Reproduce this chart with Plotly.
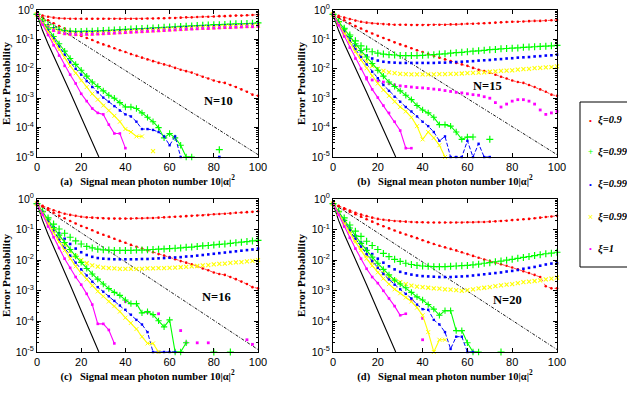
import plotly.graph_objects as go

# ---------------- data (y values are decimal exponents: log10 of error probability) -------------
X = [0, 2.5, 5, 7.5, 10, 12.5, 15, 17.5, 20, 22.5, 25, 27.5, 30, 32.5, 35, 37.5, 40, 42.5, 45, 47.5,
     50, 52.5, 55, 57.5, 60, 62.5, 65, 67.5, 70, 72.5, 75, 77.5, 80, 82.5, 85, 87.5, 90, 92.5, 95, 97.5, 100]
X_TICKS = [0, 20, 40, 60, 80, 100]
Y_TICKVALS = [1, 1e-1, 1e-2, 1e-3, 1e-4, 1e-5]
Y_TICKTEXT = ["10<sup>0</sup>", "10<sup>-1</sup>", "10<sup>-2</sup>", "10<sup>-3</sup>", "10<sup>-4</sup>", "10<sup>-5</sup>"]

BLACK_SOLID_X = [0, 2.5, 5, 7.5, 10, 15, 20, 25, 28]
BLACK_SOLID_E = [-0.15, -0.7, -1.15, -1.55, -1.95, -2.8, -3.65, -4.5, -5.0]
BLACK_DASH_X = [0, 100]
BLACK_DASH_E = [-0.15, -4.92]

RED_LOW_ABC_E = [-0.15, -0.25, -0.35, -0.45, -0.55, -0.63, -0.72, -0.8, -0.88, -0.95, -1.02, -1.1, -1.17, -1.23,
                 -1.3, -1.37, -1.43, -1.5, -1.56, -1.62, -1.68, -1.74, -1.8, -1.85, -1.9, -1.97, -2.03, -2.08,
                 -2.13, -2.2, -2.27, -2.33, -2.4, -2.45, -2.48, -2.55, -2.62, -2.7, -2.78, -2.88, -2.92]
RED_LOW_D_E = [-0.15, -0.24, -0.33, -0.42, -0.5, -0.58, -0.66, -0.74, -0.82, -0.89, -0.96, -1.03, -1.1, -1.16,
               -1.22, -1.28, -1.35, -1.41, -1.47, -1.53, -1.58, -1.63, -1.68, -1.74, -1.8, -1.86, -1.92, -1.98,
               -2.03, -2.08, -2.13, -2.18, -2.24, -2.3, -2.36, -2.42, -2.48, -2.55, -2.85, -2.92, -2.92]

# ---- panel (a) N=10
A_RED_UP_E = [-0.15, -0.19, -0.23, -0.26, -0.28, -0.29, -0.3, -0.3, -0.3, -0.3, -0.3, -0.3, -0.3, -0.3, -0.3,
              -0.3, -0.3, -0.3, -0.3, -0.3, -0.29, -0.29, -0.28, -0.28, -0.27, -0.27, -0.26, -0.25, -0.25, -0.24,
              -0.23, -0.23, -0.22, -0.21, -0.21, -0.2, -0.19, -0.19, -0.18, -0.17, -0.16]
A_GRN_UP_E = [-0.15, -0.35, -0.5, -0.6, -0.66, -0.7, -0.72, -0.73, -0.73, -0.72, -0.72, -0.71, -0.7, -0.69, -0.68,
              -0.67, -0.66, -0.65, -0.64, -0.63, -0.62, -0.61, -0.6, -0.59, -0.58, -0.57, -0.56, -0.55, -0.54,
              -0.53, -0.52, -0.51, -0.5, -0.5, -0.49, -0.48, -0.47, -0.47, -0.46, -0.45, -0.44]
A_BLU_UP_E = [-0.15, -0.37, -0.53, -0.63, -0.7, -0.74, -0.76, -0.77, -0.77, -0.76, -0.76, -0.75, -0.74, -0.73,
              -0.72, -0.71, -0.7, -0.69, -0.68, -0.67, -0.66, -0.65, -0.64, -0.63, -0.62, -0.61, -0.6, -0.59,
              -0.58, -0.57, -0.56, -0.56, -0.55, -0.54, -0.53, -0.53, -0.52, -0.51, -0.5, -0.5, -0.49]
A_YEL_UP_E = [-0.15, -0.39, -0.56, -0.67, -0.74, -0.78, -0.8, -0.81, -0.81, -0.8, -0.8, -0.79, -0.78, -0.77,
              -0.76, -0.75, -0.74, -0.73, -0.72, -0.71, -0.7, -0.69, -0.68, -0.67, -0.66, -0.65, -0.64, -0.63,
              -0.62, -0.61, -0.6, -0.6, -0.59, -0.58, -0.57, -0.57, -0.56, -0.55, -0.54, -0.54, -0.53]
A_MAG_UP_E = [-0.15, -0.41, -0.58, -0.7, -0.77, -0.81, -0.83, -0.84, -0.84, -0.83, -0.83, -0.82, -0.81, -0.8,
              -0.79, -0.78, -0.77, -0.76, -0.75, -0.74, -0.73, -0.72, -0.71, -0.7, -0.69, -0.68, -0.67, -0.66,
              -0.65, -0.64, -0.63, -0.63, -0.62, -0.61, -0.6, -0.6, -0.59, -0.58, -0.57, -0.57, -0.56]
A_GRN_LO_E = [-0.15, -0.4, -0.65, -0.9, -1.15, -1.4, -1.65, -1.85, -2.05, -2.25, -2.45, -2.6, -2.75, -2.9, -3.0,
              -3.15, -3.3, -3.3, -3.35, -3.5, -3.65, -3.8, -4.0, -4.35, -4.2, -4.35, -4.6, -5.0, -5.0]
A_BLU_LO_E = [-0.15, -0.42, -0.7, -0.98, -1.25, -1.52, -1.78, -2.0, -2.2, -2.42, -2.62, -2.8, -2.98, -3.12,
              -3.27, -3.42, -3.55, -3.62, -3.8, -4.05, -4.05, -4.08, -4.15, -4.3, -4.6, -4.3, -5.0]
A_YEL_LO_E = [-0.15, -0.45, -0.75, -1.05, -1.35, -1.62, -1.9, -2.15, -2.4, -2.62, -2.85, -3.05, -3.25, -3.42,
              -3.6, -3.8, -4.05, -4.15, -4.3, -4.3]
A_MAG_LO_E = [-0.15, -0.5, -0.85, -1.2, -1.55, -1.9, -2.2, -2.5, -2.85, -3.1, -3.35, -3.5, -3.55, -3.9, -4.2,
              -4.2, -4.7]
A_GRN_PTS_X, A_GRN_PTS_E = [82.5], [-4.75]
A_BLU_PTS_X, A_BLU_PTS_E = [82.5], [-5.0]
A_YEL_PTS_X, A_YEL_PTS_E = [52.5], [-4.8]

# ---- panel (b) N=15
B_RED_UP_E = [-0.15, -0.2, -0.26, -0.31, -0.36, -0.4, -0.43, -0.45, -0.47, -0.48, -0.49, -0.5, -0.5, -0.5, -0.51,
              -0.51, -0.51, -0.51, -0.5, -0.5, -0.5, -0.49, -0.49, -0.48, -0.47, -0.47, -0.46, -0.45, -0.44,
              -0.43, -0.42, -0.41, -0.4, -0.4, -0.39, -0.38, -0.37, -0.37, -0.36, -0.35, -0.34]
B_GRN_UP_E = [-0.15, -0.4, -0.62, -0.85, -1.05, -1.22, -1.33, -1.42, -1.47, -1.5, -1.52, -1.53, -1.55, -1.55,
              -1.55, -1.55, -1.54, -1.53, -1.52, -1.5, -1.49, -1.47, -1.45, -1.44, -1.42, -1.4, -1.39, -1.37,
              -1.35, -1.34, -1.32, -1.31, -1.3, -1.29, -1.27, -1.26, -1.25, -1.24, -1.23, -1.22, -1.2]
B_BLU_UP_E = [-0.15, -0.42, -0.7, -0.95, -1.2, -1.4, -1.55, -1.65, -1.72, -1.76, -1.78, -1.79, -1.8, -1.8, -1.8,
              -1.8, -1.8, -1.8, -1.8, -1.79, -1.79, -1.78, -1.77, -1.76, -1.75, -1.74, -1.72, -1.71, -1.7, -1.68,
              -1.67, -1.65, -1.64, -1.62, -1.61, -1.6, -1.58, -1.57, -1.55, -1.54, -1.52]
B_YEL_UP_E = [-0.15, -0.45, -0.75, -1.05, -1.3, -1.55, -1.75, -1.9, -2.0, -2.07, -2.12, -2.15, -2.17, -2.18,
              -2.19, -2.19, -2.19, -2.19, -2.19, -2.18, -2.18, -2.17, -2.17, -2.16, -2.15, -2.14, -2.13, -2.12,
              -2.1, -2.09, -2.07, -2.06, -2.05, -2.03, -2.01, -2.0, -1.98, -1.97, -1.95, -1.94, -1.92]
B_MAG_UP_X = [15, 17.5, 20, 22.5, 25, 27.5, 30, 32.5, 35, 37.5, 40, 42.5, 45, 47.5, 50, 52.5, 55, 57.5, 60, 62.5,
              65, 67.5, 70, 72.5, 75, 77.5, 80, 82.5, 85, 87.5, 90, 92.5, 95, 97.5, 100]
B_MAG_UP_E = [-2.3, -2.38, -2.42, -2.45, -2.5, -2.55, -2.58, -2.6, -2.62, -2.64, -2.65, -2.67, -2.69, -2.71, -2.74,
              -2.77, -2.8, -2.82, -2.85, -2.88, -2.9, -2.95, -3.0, -3.15, -3.3, -3.2, -3.1, -3.05, -3.05, -3.1,
              -3.2, -3.4, -3.55, -3.5, -3.45]
B_GRN_LO_E = [-0.15, -0.4, -0.65, -0.9, -1.15, -1.38, -1.6, -1.82, -2.05, -2.25, -2.45, -2.6, -2.75, -2.9, -3.05,
              -3.25, -3.4, -3.5, -3.65, -3.9, -3.9, -3.95, -4.15, -4.4, -4.32, -4.32]
B_BLU_LO_E = [-0.15, -0.45, -0.75, -1.05, -1.33, -1.6, -1.85, -2.1, -2.32, -2.55, -2.75, -2.95, -3.12, -3.3,
              -3.45, -3.62, -3.8, -3.95, -4.15, -4.45, -4.3, -5.0, -5.0, -5.0, -4.45, -5.0, -4.55, -5.0, -5.0]
B_YEL_LO_E = [-0.15, -0.48, -0.8, -1.12, -1.42, -1.7, -1.98, -2.25, -2.5, -2.72, -2.92, -3.12, -3.3, -3.45, -3.65,
              -3.95, -4.4, -4.15, -4.35, -4.6, -5.0]
B_MAG_LO_E = [-0.15, -0.52, -0.9, -1.28, -1.65, -2.0, -2.35, -2.7, -2.98, -3.25, -3.5, -3.8, -4.1, -4.7, -4.7]
B_GRN_PTS_X, B_GRN_PTS_E = [70], [-4.4]

# ---- panel (c) N=16
C_RED_UP_E = [-0.15, -0.22, -0.3, -0.37, -0.43, -0.48, -0.52, -0.55, -0.58, -0.6, -0.61, -0.62, -0.63, -0.64,
              -0.64, -0.64, -0.64, -0.64, -0.63, -0.63, -0.62, -0.62, -0.61, -0.6, -0.59, -0.58, -0.57, -0.56,
              -0.55, -0.54, -0.53, -0.52, -0.5, -0.49, -0.48, -0.47, -0.45, -0.44, -0.43, -0.42, -0.4]
C_GRN_UP_E = [-0.15, -0.4, -0.62, -0.82, -0.98, -1.12, -1.25, -1.37, -1.47, -1.55, -1.6, -1.64, -1.66, -1.67,
              -1.68, -1.68, -1.68, -1.68, -1.67, -1.67, -1.66, -1.65, -1.64, -1.63, -1.62, -1.61, -1.6, -1.58,
              -1.57, -1.55, -1.53, -1.52, -1.5, -1.48, -1.47, -1.45, -1.43, -1.41, -1.39, -1.37, -1.35]
C_BLU_UP_E = [-0.15, -0.42, -0.68, -0.92, -1.12, -1.3, -1.47, -1.62, -1.74, -1.83, -1.89, -1.93, -1.95, -1.96,
              -1.97, -1.97, -1.97, -1.97, -1.97, -1.96, -1.96, -1.95, -1.94, -1.93, -1.92, -1.91, -1.9, -1.88,
              -1.87, -1.85, -1.83, -1.81, -1.79, -1.77, -1.75, -1.73, -1.71, -1.69, -1.67, -1.65, -1.62]
C_YEL_UP_E = [-0.15, -0.45, -0.75, -1.02, -1.28, -1.5, -1.7, -1.87, -2.0, -2.1, -2.17, -2.21, -2.24, -2.26,
              -2.27, -2.28, -2.28, -2.28, -2.28, -2.28, -2.27, -2.27, -2.26, -2.26, -2.25, -2.24, -2.23, -2.22,
              -2.2, -2.19, -2.17, -2.16, -2.14, -2.12, -2.11, -2.09, -2.07, -2.06, -2.04, -2.02, -2.0]
C_MAG_UP_X = [40, 50, 55, 65, 67.5, 72.5, 77.5, 95, 97.5]
C_MAG_UP_E = [-3.35, -3.7, -3.75, -4.3, -4.7, -4.7, -4.7, -4.6, -4.75]
C_GRN_LO_E = [-0.15, -0.42, -0.68, -0.93, -1.18, -1.42, -1.65, -1.87, -2.07, -2.27, -2.45, -2.62, -2.78, -2.93,
              -3.05, -3.15, -3.3, -3.42, -3.42, -3.72, -3.68, -3.78, -3.98, -4.18, -3.95, -5.0, -5.0, -4.7]
C_BLU_LO_E = [-0.15, -0.45, -0.75, -1.05, -1.33, -1.6, -1.85, -2.08, -2.3, -2.5, -2.7, -2.88, -3.03, -3.18, -3.33,
              -3.48, -3.62, -3.78, -3.95, -4.1, -4.35, -5.0, -5.0, -5.0, -5.0, -5.0]
C_YEL_LO_E = [-0.15, -0.48, -0.8, -1.1, -1.4, -1.68, -1.95, -2.2, -2.42, -2.63, -2.83, -3.02, -3.18, -3.35, -3.5,
              -3.68, -3.88, -4.05, -4.25, -4.5, -4.72, -4.72, -5.0]
C_MAG_LO_E = [-0.15, -0.52, -0.9, -1.25, -1.6, -1.95, -2.25, -2.55, -2.8, -3.1, -3.45, -4.08, -4.08, -4.28, -4.72]
C_GRN_PTS_X, C_GRN_PTS_E = [80, 87.5], [-5.0, -5.0]

# ---- panel (d) N=20
D_RED_UP_E = [-0.15, -0.22, -0.3, -0.38, -0.45, -0.51, -0.56, -0.61, -0.65, -0.68, -0.7, -0.72, -0.73, -0.74,
              -0.75, -0.76, -0.76, -0.77, -0.77, -0.77, -0.77, -0.77, -0.77, -0.77, -0.76, -0.76, -0.75, -0.75,
              -0.74, -0.73, -0.72, -0.71, -0.69, -0.68, -0.66, -0.65, -0.63, -0.61, -0.59, -0.57, -0.55]
D_GRN_UP_E = [-0.15, -0.4, -0.62, -0.85, -1.05, -1.22, -1.38, -1.52, -1.65, -1.78, -1.88, -1.97, -2.04, -2.1,
              -2.14, -2.17, -2.19, -2.2, -2.21, -2.21, -2.21, -2.2, -2.19, -2.18, -2.17, -2.15, -2.13, -2.1,
              -2.08, -2.05, -2.03, -2.0, -1.97, -1.94, -1.91, -1.88, -1.85, -1.82, -1.79, -1.77, -1.74]
D_BLU_UP_E = [-0.15, -0.42, -0.7, -0.95, -1.2, -1.42, -1.62, -1.8, -1.95, -2.08, -2.2, -2.3, -2.38, -2.43, -2.47,
              -2.5, -2.52, -2.53, -2.54, -2.55, -2.55, -2.55, -2.54, -2.53, -2.52, -2.5, -2.48, -2.46, -2.44,
              -2.42, -2.4, -2.37, -2.35, -2.32, -2.28, -2.25, -2.22, -2.18, -2.14, -2.11, -2.1]
D_YEL_UP_E = [-0.15, -0.45, -0.75, -1.05, -1.33, -1.6, -1.85, -2.07, -2.25, -2.42, -2.55, -2.65, -2.72, -2.78,
              -2.83, -2.86, -2.88, -2.9, -2.92, -2.93, -2.95, -2.96, -2.98, -3.0, -2.98, -2.95, -2.92, -2.9, -2.88,
              -2.85, -2.82, -2.8, -2.78, -2.75, -2.72, -2.7, -2.68, -2.66, -2.63, -2.6, -2.57]
D_MAG_UP_X = [35, 40, 40]
D_MAG_UP_E = [-3.3, -3.9, -4.6]
D_GRN_LO_E = [-0.15, -0.42, -0.7, -0.95, -1.2, -1.45, -1.68, -1.9, -2.1, -2.3, -2.48, -2.65, -2.78, -2.9, -3.05,
              -3.2, -3.3, -3.45, -3.6, -3.8, -3.65, -3.65, -4.3, -4.3, -4.7, -5.0, -5.0]
D_BLU_LO_E = [-0.15, -0.45, -0.75, -1.03, -1.3, -1.56, -1.8, -2.03, -2.25, -2.45, -2.63, -2.8, -2.95, -3.1, -3.25,
              -3.45, -3.6, -3.62, -3.95, -4.1, -4.35, -4.9, -4.5, -4.5, -5.0, -5.0]
D_YEL_LO_E = [-0.15, -0.48, -0.8, -1.1, -1.4, -1.68, -1.95, -2.18, -2.4, -2.6, -2.78, -2.95, -3.08, -3.22, -3.35,
              -3.55, -3.8, -4.35, -5.0, -4.6, -4.6]
D_MAG_LO_E = [-0.15, -0.52, -0.9, -1.27, -1.62, -1.95, -2.28, -2.55, -2.75, -3.0, -3.25, -3.5, -3.8, -3.75]
D_GRN_PTS_X, D_GRN_PTS_E = [75], [-5.0]

PANEL_TAGS = ["(a)", "(b)", "(c)", "(d)"]
PANEL_N = ["N=10", "N=15", "N=16", "N=20"]
N_LABEL_X = [82, 69, 81, 78]
N_LABEL_E = [-3.1, -2.6, -3.2, -3.3]

LEG_LABELS = ["ξ=0.9", "ξ=0.99", "ξ=0.995", "ξ=0.998", "ξ=1"]
LEG_GLYPHS = ["•", "+", "•", "×", "•"]

# ---------------- styles -------------
RED, GRN, BLU, YEL, MAG = "#ff0000", "#00ff00", "#0000ff", "#ffff00", "#ff00ff"
LEG_COLORS = [RED, GRN, BLU, YEL, MAG]
SERIF = "Liberation Serif"
SANS = "Liberation Sans"

W, H = 627, 394


def px_x(v):
    return v / W


def px_y(v):
    return 1 - v / H


LEFT, RIGHT = [px_x(37), px_x(258)], [px_x(333), px_x(557)]
TOP, BOT = [px_y(157), px_y(10)], [px_y(352), px_y(199)]
XDOM = [LEFT, RIGHT, LEFT, RIGHT]
YDOM = [TOP, TOP, BOT, BOT]


def p(vals):
    return [None if v is None else 10 ** v for v in vals]


fig = go.Figure()


def add(k, x, e, color, mode, symbol="circle", size=3.0, dash="solid", width=1.0, mline=0):
    ax = "" if k == 0 else str(k + 1)
    fig.add_trace(go.Scatter(
        x=x, y=p(e), mode=mode, xaxis="x" + ax, yaxis="y" + ax, showlegend=False, cliponaxis=False,
        line=dict(color=color, width=width, dash=dash),
        marker=dict(symbol=symbol, size=size, color=color, line=dict(width=mline, color=color)),
        hoverinfo="skip"))


def panel(k, red_up, red_lo, g_up, b_up, y_up, m_up_x, m_up, g_lo, b_lo, y_lo, m_lo, extras):
    add(k, BLACK_SOLID_X, BLACK_SOLID_E, "black", "lines", width=1.1)
    add(k, BLACK_DASH_X, BLACK_DASH_E, "black", "lines", dash="3px,1.5px,1px,1.5px", width=0.9)
    add(k, X, red_up, RED, "lines+markers", size=2.6, dash="dot", width=0.7)
    add(k, X, red_lo, RED, "lines+markers", size=2.6, dash="dot", width=0.7)
    add(k, X, g_up, GRN, "markers", symbol="cross-thin", size=5, mline=1.2)
    add(k, X, b_up, BLU, "markers", symbol="square", size=2.6)
    add(k, X, y_up, YEL, "markers", symbol="x-thin", size=4, mline=1.1)
    add(k, m_up_x, m_up, MAG, "markers", symbol="square", size=2.8)
    add(k, X[:len(g_lo)], g_lo, GRN, "lines+markers", symbol="cross-thin", size=4.5, width=1.1, mline=1.1)
    add(k, X[:len(b_lo)], b_lo, BLU, "lines+markers", symbol="square", size=2.4, dash="4px,2px", width=1.0)
    add(k, X[:len(y_lo)], y_lo, YEL, "lines+markers", symbol="x-thin", size=4, width=1.1, mline=1.0)
    add(k, X[:len(m_lo)], m_lo, MAG, "lines+markers", symbol="square", size=2.6, width=1.1)
    for (ex, ee, col, sym, sz, ml) in extras:
        add(k, ex, ee, col, "markers", symbol=sym, size=sz, mline=ml)


GPLUS = ("cross-thin", 5, 1.2)
BDOT = ("square", 2.6, 0)
YX = ("x-thin", 4, 1.1)

panel(0, A_RED_UP_E, RED_LOW_ABC_E, A_GRN_UP_E, A_BLU_UP_E, A_YEL_UP_E, X, A_MAG_UP_E,
      A_GRN_LO_E, A_BLU_LO_E, A_YEL_LO_E, A_MAG_LO_E,
      [(A_GRN_PTS_X, A_GRN_PTS_E, GRN) + GPLUS, (A_BLU_PTS_X, A_BLU_PTS_E, BLU) + BDOT,
       (A_YEL_PTS_X, A_YEL_PTS_E, YEL) + YX])
panel(1, B_RED_UP_E, RED_LOW_ABC_E, B_GRN_UP_E, B_BLU_UP_E, B_YEL_UP_E, B_MAG_UP_X, B_MAG_UP_E,
      B_GRN_LO_E, B_BLU_LO_E, B_YEL_LO_E, B_MAG_LO_E,
      [(B_GRN_PTS_X, B_GRN_PTS_E, GRN) + GPLUS])
panel(2, C_RED_UP_E, RED_LOW_ABC_E, C_GRN_UP_E, C_BLU_UP_E, C_YEL_UP_E, C_MAG_UP_X, C_MAG_UP_E,
      C_GRN_LO_E, C_BLU_LO_E, C_YEL_LO_E, C_MAG_LO_E,
      [(C_GRN_PTS_X, C_GRN_PTS_E, GRN) + GPLUS])
panel(3, D_RED_UP_E, RED_LOW_D_E, D_GRN_UP_E, D_BLU_UP_E, D_YEL_UP_E, D_MAG_UP_X, D_MAG_UP_E,
      D_GRN_LO_E, D_BLU_LO_E, D_YEL_LO_E, D_MAG_LO_E,
      [(D_GRN_PTS_X, D_GRN_PTS_E, GRN) + GPLUS])

MINOR_Y = [m * 10 ** d for d in range(-5, 0) for m in range(2, 10)]

layout = dict(
    width=W, height=H, paper_bgcolor="white", plot_bgcolor="white",
    margin=dict(l=0, r=0, t=0, b=0, autoexpand=False),
    font=dict(family=SANS, size=11, color="black"),
    showlegend=False, annotations=[], shapes=[])

for k in range(4):
    ax = "" if k == 0 else str(k + 1)
    layout["xaxis" + ax] = dict(
        domain=XDOM[k], anchor="y" + ax, range=[0, 100], tickvals=X_TICKS, ticks="inside", ticklen=4,
        tickcolor="black", showline=True, linecolor="black", linewidth=1, mirror="ticks", showgrid=False,
        zeroline=False, tickfont=dict(family=SANS, size=11),
        title=dict(text="<b>" + PANEL_TAGS[k] + "\u00a0\u00a0\u00a0Signal mean photon number 10|α|<sup>2</sup></b>",
                   font=dict(family=SERIF, size=10.5), standoff=3))
    layout["yaxis" + ax] = dict(
        domain=YDOM[k], anchor="x" + ax, type="log", range=[-5, 0], tickmode="array", tickvals=Y_TICKVALS,
        ticktext=Y_TICKTEXT, ticks="inside", ticklen=4, tickcolor="black", showline=True, linecolor="black",
        linewidth=1, mirror="ticks", showgrid=False, zeroline=False, tickfont=dict(family=SANS, size=10.5),
        minor=dict(tickmode="array", tickvals=MINOR_Y, ticks="inside", ticklen=2, tickcolor="black", showgrid=False),
        title=dict(text="<b>Error Probability</b>", font=dict(family=SERIF, size=11), standoff=3))
    layout["annotations"].append(dict(
        x=N_LABEL_X[k], y=N_LABEL_E[k], xref="x" + ax, yref="y" + ax, text="<b>" + PANEL_N[k] + "</b>",
        showarrow=False, font=dict(family=SERIF, size=12.5, color="black")))

# legend box (drawn by hand so that it is clipped at the page edge as in the original)
layout["shapes"].append(dict(type="rect", xref="paper", yref="paper", x0=px_x(580), x1=1.05,
                             y0=px_y(267), y1=px_y(102), line=dict(color="black", width=1),
                             fillcolor="white", layer="above"))
LEG_Y_PX = [120, 152, 184, 217, 249]
for i in range(5):
    yy = px_y(LEG_Y_PX[i])
    layout["annotations"].append(dict(
        x=px_x(590), y=yy, xref="paper", yref="paper", xanchor="center", yanchor="middle",
        text=LEG_GLYPHS[i], showarrow=False,
        font=dict(family=SANS, size=9 if LEG_GLYPHS[i] != "•" else 8, color=LEG_COLORS[i])))
    layout["annotations"].append(dict(
        x=px_x(596), y=yy, xref="paper", yref="paper", xanchor="left", yanchor="middle",
        text="<b><i>" + LEG_LABELS[i] + "</i></b>", showarrow=False,
        font=dict(family=SERIF, size=10.5, color="black")))

fig.update_layout(**layout)
# the default page body has an 8px margin; remove it so the 627x394 figure fills the window
fig.write_html("out.html", config={"displayModeBar": False},
               post_script="document.body.style.margin='0';")
